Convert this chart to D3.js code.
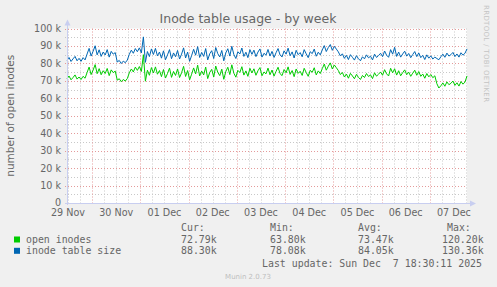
<!DOCTYPE html>
<html><head><meta charset="utf-8">
<script src="https://cdn.jsdelivr.net/npm/d3@7"></script>
<style>
html,body{margin:0;padding:0;background:#F0F0F0;}
svg{display:block;}
text{font-family:"DejaVu Sans",sans-serif;}
.mono text{font-family:"DejaVu Sans Mono",monospace;white-space:pre;}
</style></head><body>
<script>
// ---- data ----
const title = "Inode table usage - by week";
const yLabel = "number of open inodes";
const startTime = "2025-11-29T11:30:00Z";
const endTime = "2025-12-07T18:30:00Z";
const dayLabels = ["2025-11-29","2025-11-30","2025-12-01","2025-12-02","2025-12-03","2025-12-04","2025-12-05","2025-12-06","2025-12-07"];
const yTicks = [0,10000,20000,30000,40000,50000,60000,70000,80000,90000,100000];
const yTickLabels = ["0","10 k","20 k","30 k","40 k","50 k","60 k","70 k","80 k","90 k","100 k"];
const seriesNames = ["open inodes","inode table size"];
const seriesColors = ["#00CC00","#0066B3"];
// hourly values in thousands
const openInodes = [
71.2,72.8,70.6,71.9,73.4,71.0,72.2,70.8,72.6,71.5,
74.8,77.9,73.6,76.2,79.3,74.1,77.0,
73.5,75.8,74.2,77.1,73.0,76.3,74.7,75.6,
70.4,71.2,69.5,70.8,69.9,71.3,
74.6,76.8,75.1,77.9,76.0,78.2,75.4,
85.0,69.8,
76.1,73.2,77.6,74.5,78.0,73.8,75.9,
72.4,76.5,71.6,74.2,77.3,72.0,75.4,73.1,76.8,71.9,
74.6,78.3,72.5,75.9,70.6,73.8,77.4,74.0,79.0,72.8,75.6,73.4,77.9,71.3,74.8,76.6,72.2,78.5,74.9,73.0,76.7,70.9,75.3,77.8,73.6,79.2,74.4,72.1,76.0,74.8,78.1,73.3,75.7,72.6,77.2,
74.5,76.9,73.2,75.8,77.6,72.9,75.1,74.0,77.3,73.5,76.2,72.7,75.4,77.8,74.1,73.0,76.5,74.6,78.0,73.7,75.9,72.4,76.8,74.3,75.5,73.1,77.2,74.8,72.6,76.0,74.9,77.5,73.4,75.7,74.2,
77.0,79.6,76.1,78.4,80.3,76.8,79.1,77.5,75.9,
73.6,74.8,72.2,73.9,71.5,74.3,72.8,71.2,73.7,72.0,70.8,73.1,71.9,74.2,72.5,73.4,71.3,74.6,72.7,73.8,
75.1,73.2,76.4,74.0,72.8,77.2,74.6,76.9,73.3,75.8,72.9,74.7,76.3,73.5,75.0,72.6,74.4,76.1,73.2,75.3,
72.6,73.9,71.5,74.2,72.3,73.6,71.8,72.9,
68.4,65.9,
67.2,68.8,66.9,69.4,67.8,68.6,69.9,67.4,68.9,67.0,69.6,68.1,69.3,72.8
];
const tableSize = [
81.8,83.4,81.1,82.6,84.0,81.5,82.9,81.2,83.3,82.0,
85.4,88.6,84.2,87.0,90.1,84.9,87.8,
84.0,86.5,84.8,87.9,83.6,86.9,85.3,86.2,
80.8,81.7,79.9,81.3,80.4,81.9,
85.2,87.6,85.8,88.5,86.7,88.9,86.0,
95.2,80.6,
86.8,83.9,88.3,85.1,88.6,84.3,86.5,
83.0,87.2,82.1,84.9,87.9,82.7,86.0,83.8,87.4,82.5,
85.3,88.9,83.1,86.5,81.2,84.5,88.1,84.7,89.6,83.4,86.3,84.0,88.5,82.0,85.5,87.3,82.8,89.1,85.6,83.7,87.4,81.5,86.0,88.4,84.2,89.8,85.1,82.8,86.7,85.4,88.8,84.0,86.4,83.3,87.9,
85.2,87.6,83.9,86.5,88.3,83.6,85.8,84.7,88.0,84.2,86.9,83.4,86.1,88.5,84.8,83.7,87.2,85.3,88.7,84.4,86.6,83.1,87.5,85.0,86.2,83.8,87.9,85.5,83.3,86.7,85.6,88.2,84.1,86.4,84.9,
87.7,90.2,86.8,89.1,90.8,87.5,89.8,88.2,86.6,
84.3,85.5,82.9,84.6,82.2,85.0,83.5,81.9,84.4,82.7,81.5,83.8,82.6,84.9,83.2,84.1,82.0,85.3,83.4,84.5,
85.8,83.9,87.1,84.7,83.5,87.9,85.3,89.2,84.0,86.5,83.6,85.4,87.0,84.2,85.7,83.3,85.1,86.8,83.9,86.0,
83.3,84.6,82.2,84.9,83.0,84.3,82.5,83.6,
82.8,82.1,
83.8,85.3,83.5,85.9,84.2,85.0,86.3,83.9,85.4,83.6,86.1,84.7,85.8,88.3
];
const legendHeaders = ["Cur:","Min:","Avg:","Max:"];
const legendStats = [
  ["72.79k","63.80k","73.47k","120.20k"],
  ["88.30k","78.08k","84.05k","130.36k"]
];
const lastUpdate = "Last update: Sun Dec  7 18:30:11 2025";
const credit = "RRDTOOL / TOBI OETIKER";
const version = "Munin 2.0.73";

// ---- layout ----
const W = 497, H = 287;
const L = 67, R = 467, T = 28.5, B = 203;
const fontCol = "#666666";
const axisCol = "#C8CEF0";

const svg = d3.select("body").append("svg").attr("width", W).attr("height", H);
svg.append("rect").attr("width", W).attr("height", H).attr("fill", "#F0F0F0");
svg.append("rect").attr("x", L).attr("y", T).attr("width", R - L).attr("height", B - T).attr("fill", "#FFFFFF");

const t0 = new Date(startTime), t1 = new Date(endTime);
const x = d3.scaleUtc().domain([t0, t1]).range([L, R]);
const y = d3.scaleLinear().domain([0, 100000]).range([B, T]);

// grid
const g = svg.append("g");
const minorX = d3.utcHour.every(6).range(t0, t1).filter(d => d.getUTCHours() !== 0);
const majorX = d3.utcDay.range(t0, t1);
g.selectAll(".mx").data(minorX).enter().append("line")
  .attr("x1", d => Math.round(x(d)) + 0.5).attr("x2", d => Math.round(x(d)) + 0.5)
  .attr("y1", T).attr("y2", B + 2)
  .attr("stroke", "#C8C8C8").attr("stroke-dasharray", "1,2");
const minorY = d3.range(5000, 100001, 10000);
g.selectAll(".my").data(minorY).enter().append("line")
  .attr("x1", L - 2).attr("x2", R)
  .attr("y1", d => Math.round(y(d)) + 0.5).attr("y2", d => Math.round(y(d)) + 0.5)
  .attr("stroke", "#C8C8C8").attr("stroke-dasharray", "1,2");
g.selectAll(".Mx").data(majorX).enter().append("line")
  .attr("x1", d => Math.round(x(d)) + 0.5).attr("x2", d => Math.round(x(d)) + 0.5)
  .attr("y1", T).attr("y2", B + 2)
  .attr("stroke", "#E49A9A").attr("stroke-dasharray", "1,2");
g.selectAll(".My").data(yTicks.slice(1)).enter().append("line")
  .attr("x1", L - 2).attr("x2", R)
  .attr("y1", d => Math.round(y(d)) + 0.5).attr("y2", d => Math.round(y(d)) + 0.5)
  .attr("stroke", "#E49A9A").attr("stroke-dasharray", "1,2");

// series
const n = openInodes.length;
const times = d3.range(n).map(i => new Date(+t0 + (t1 - t0) * i / (n - 1)));
const line = d3.line().x((d, i) => x(times[i])).y(d => y(d * 1000));
[openInodes, tableSize].forEach((s, k) => {
  svg.append("path").datum(s).attr("d", line).attr("fill", "none")
    .attr("stroke", seriesColors[k]).attr("stroke-width", 1);
});

// axes
svg.append("line").attr("x1", L + 0.5).attr("x2", L + 0.5).attr("y1", T - 4).attr("y2", B + 2)
  .attr("stroke", axisCol);
svg.append("line").attr("x1", L - 2).attr("x2", R + 3).attr("y1", B + 0.5).attr("y2", B + 0.5)
  .attr("stroke", axisCol);
svg.append("path").attr("d", `M${L - 2.5},${T - 3} L${L + 0.5},${T - 9} L${L + 3.5},${T - 3} Z`).attr("fill", axisCol);
svg.append("path").attr("d", `M${R + 3},${B - 2.5} L${R + 9},${B + 0.5} L${R + 3},${B + 3.5} Z`).attr("fill", axisCol);

// y tick labels
svg.selectAll(".yl").data(yTicks).enter().append("text")
  .attr("x", 61).attr("y", d => y(d)).attr("dy", "0.36em")
  .attr("text-anchor", "end").attr("font-size", 9.6).attr("fill", fontCol)
  .text((d, i) => yTickLabels[i]);

// x tick labels (noon)
const fmt = d3.utcFormat("%d %b");
svg.selectAll(".xl").data(dayLabels).enter().append("text")
  .attr("x", d => x(new Date(d + "T12:00:00Z"))).attr("y", 216)
  .attr("text-anchor", "middle").attr("font-size", 9.6).attr("fill", fontCol)
  .text(d => fmt(new Date(d + "T12:00:00Z")));

// title
svg.append("text").attr("x", 248).attr("y", 23).attr("text-anchor", "middle")
  .attr("font-size", 12.5).attr("fill", fontCol).text(title);
// y label
svg.append("text").attr("transform", `translate(14,${(T + B) / 2}) rotate(-90)`)
  .attr("text-anchor", "middle").attr("font-size", 10.5).attr("fill", fontCol).text(yLabel);
// credit
svg.append("text").attr("transform", "translate(484,5) rotate(90)")
  .attr("font-size", 7).attr("fill", "#C4C4C4").attr("textLength", 97).text(credit);

// legend
const colX = [181, 270, 358, 442];
const leg = svg.append("g").attr("class", "mono").attr("font-size", 9.9).attr("fill", fontCol);
legendHeaders.forEach((h, i) => {
  leg.append("text").attr("x", colX[i] + (i === 3 ? 5 : 0)).attr("y", 231).text(h);
});
seriesNames.forEach((nm, k) => {
  const yy = 243 + k * 11.3;
  svg.append("rect").attr("x", 14).attr("y", yy - 6.5).attr("width", 6).attr("height", 6).attr("fill", seriesColors[k]);
  leg.append("text").attr("x", 26).attr("y", yy).text(nm);
  legendStats[k].forEach((v, i) => {
    leg.append("text").attr("x", colX[i]).attr("y", yy).text(v);
  });
});
leg.append("text").attr("x", 482).attr("y", 266.5).attr("text-anchor", "end").text(lastUpdate);
svg.append("text").attr("x", 248).attr("y", 279).attr("text-anchor", "middle")
  .attr("font-size", 7).attr("fill", "#BEBEBE").text(version);
</script>
</body></html>
